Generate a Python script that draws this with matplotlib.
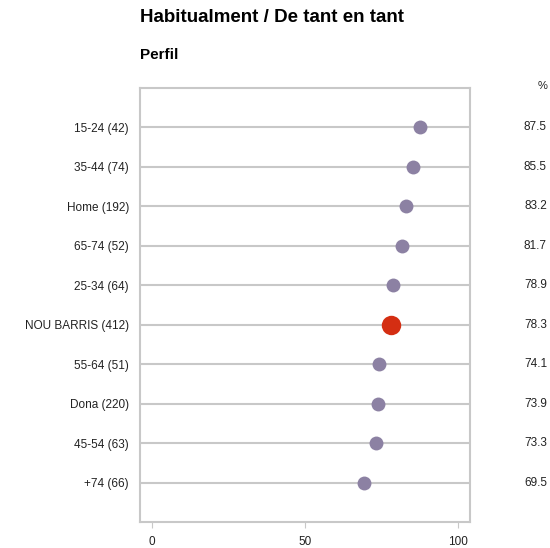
import matplotlib
matplotlib.use("Agg")
import matplotlib.pyplot as plt

plt.rcParams['font.family'] = ['Liberation Sans', 'DejaVu Sans']

categories = ["15-24 (42)", "35-44 (74)", "Home (192)", "65-74 (52)", "25-34 (64)",
              "NOU BARRIS (412)", "55-64 (51)", "Dona (220)", "45-54 (63)", "+74 (66)"]
values = [87.5, 85.5, 83.2, 81.7, 78.9, 78.3, 74.1, 73.9, 73.3, 69.5]
highlight = "NOU BARRIS (412)"
xticks = [0, 50, 100]

fig = plt.figure(figsize=(5.5, 5.48), dpi=100)
ax = fig.add_axes([140/550, 1-522/548, 330/550, 434/548])

grid_col = "#c8c8c8"
for i, (c, v) in enumerate(zip(categories, values)):
    ax.axhline(i, color=grid_col, lw=1.5, zorder=1)
    if c == highlight:
        ax.plot(v, i, 'o', ms=14, color="#d42e12", mec="none", zorder=3)
    else:
        ax.plot(v, i, 'o', ms=10, color="#8c81a3", mec="none", zorder=3)
    ax.text(1.0 + 77/330, i, f"{v:.1f}", transform=ax.get_yaxis_transform(),
            ha='right', va='center', fontsize=8.5, color="#222222")

ax.text(1.0 + 77/330, -1.05, "%", transform=ax.get_yaxis_transform(),
        ha='right', va='center', fontsize=8, color="#222222", clip_on=False)

ax.set_xlim(-3.9, 104)
ax.set_ylim(len(categories), -1)
ax.set_yticks(range(len(categories)))
ax.set_yticklabels(categories, fontsize=8.5, color="#222222")
ax.tick_params(axis='y', length=0, pad=8)
ax.set_xticks(xticks)
ax.set_xticklabels([str(t) for t in xticks], fontsize=8.5, color="#222222")
ax.tick_params(axis='x', length=4, color=grid_col, pad=6, direction='out')
for s in ax.spines.values():
    s.set_color(grid_col)
    s.set_linewidth(1.5)

fig.text(140/550, 1-18/548, "Habitualment / De tant en tant", fontsize=13.5,
         fontweight='bold', ha='left', va='center')
fig.text(140/550, 1-55/548, "Perfil", fontsize=11, fontweight='bold',
         ha='left', va='center')

fig.savefig("out.png", dpi=100)
